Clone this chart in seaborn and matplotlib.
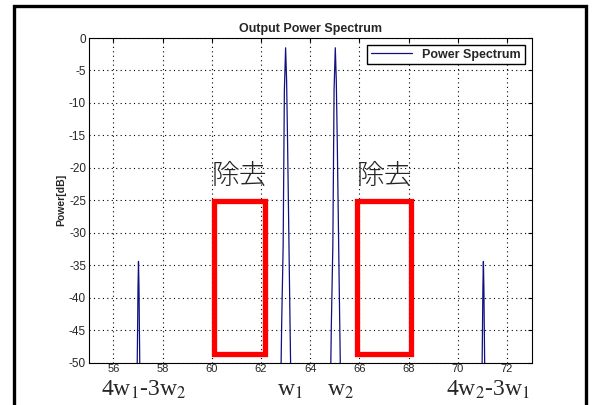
import numpy as np
import pandas as pd
import matplotlib
matplotlib.use("Agg")
import matplotlib.pyplot as plt
from matplotlib.patches import Rectangle
import seaborn as sns

# -----------------------------------
# Podaci ocitani sa slike (GHz, dB)
# -----------------------------------
freq = [55.0,
        56.94, 56.98, 57.0, 57.02, 57.04, 57.06, 57.1,
        62.78, 62.84, 62.9, 62.95, 63.0, 63.04, 63.08, 63.13, 63.18, 63.24,
        64.8, 64.86, 64.92, 64.97, 65.02, 65.06, 65.1, 65.15, 65.2, 65.26,
        70.96, 71.0, 71.02, 71.04, 71.06, 71.08, 71.12,
        73.0]
power = [-80,
         -60, -46, -38.5, -34.4, -38.4, -46, -60,
         -60, -44, -32, -8, -1.5, -6.5, -16, -30, -44, -60,
         -60, -44, -32, -8, -1.5, -6.5, -16, -30, -44, -60,
         -60, -46, -38.4, -34.4, -38.5, -46, -60,
         -80]

# uklonjena podrucja (x0, x1) i oznake
removed_x = [(60.1, 62.15), (65.9, 68.1)]
removed_y = (-48.7, -25.1)
removed_label = "除去"
bottom_labels = ["4w$_1$-3w$_2$", "w$_1$", "w$_2$", "4w$_2$-3w$_1$"]
bottom_label_x = [0.243, 0.490, 0.575, 0.825]

df = pd.DataFrame({"f": freq, "P": power, "s": "Power Spectrum"})

sns.set_style("white")
plt.rcParams["font.family"] = ["Liberation Sans", "DejaVu Sans"]
plt.rcParams["mathtext.fontset"] = "stix"
plt.rcParams["axes.unicode_minus"] = False

fig = plt.figure(figsize=(5.92, 4.05), dpi=100)
ax = fig.add_axes([0.150, 0.1044, 0.748, 0.8017])

sns.lineplot(data=df, x="f", y="P", hue="s", palette=["#101080"], sort=False,
             estimator=None, lw=0.9, ax=ax)

ax.set_xlim(55, 73)
ax.set_ylim(-50, 0)
ax.set_xticks(np.arange(56, 73, 2))
ax.set_yticks(np.arange(-50, 1, 5))
ax.grid(True, color="black", linestyle=(0, (1, 3)), linewidth=0.8)
ax.tick_params(direction="in", top=True, right=True, length=3,
               color="black", pad=2)
ax.tick_params(axis="y", labelsize=8.5)
ax.tick_params(axis="x", labelsize=8, pad=1)
for sp in ax.spines.values():
    sp.set_color("black")
    sp.set_linewidth(0.8)

ax.set_title("Output Power Spectrum", fontsize=9, fontweight="bold", pad=4)
ax.set_xlabel("")
ax.set_ylabel("Power[dB]", fontsize=7.5, fontweight="bold", labelpad=2)

leg = ax.legend(loc="upper right", fancybox=False, framealpha=1,
                edgecolor="black", prop={"weight": "bold", "size": 9},
                handlelength=3.3, borderpad=0.3, borderaxespad=0.55)
leg.get_frame().set_linewidth(1.0)

# crveni pravokutnici i tekst
for x0, x1 in removed_x:
    ax.add_patch(Rectangle((x0, removed_y[0]), x1 - x0, removed_y[1] - removed_y[0],
                           fill=False, edgecolor="red", linewidth=3.8, zorder=5))
    ax.text((x0 + x1) / 2, -21.2, removed_label, ha="center", va="center",
            fontsize=20, family=["Noto Sans CJK JP"], fontweight="light")

for lab, xx in zip(bottom_labels, bottom_label_x):
    fig.text(xx, 0.024, lab, ha="center", va="baseline", fontsize=17,
             family=["Liberation Serif"])

# okvir oko slike
fig.patches.append(Rectangle((0.0236, -0.1), 0.966, 1.085, transform=fig.transFigure,
                             fill=False, edgecolor="black", linewidth=2.4))

fig.savefig("out.png", dpi=100)
